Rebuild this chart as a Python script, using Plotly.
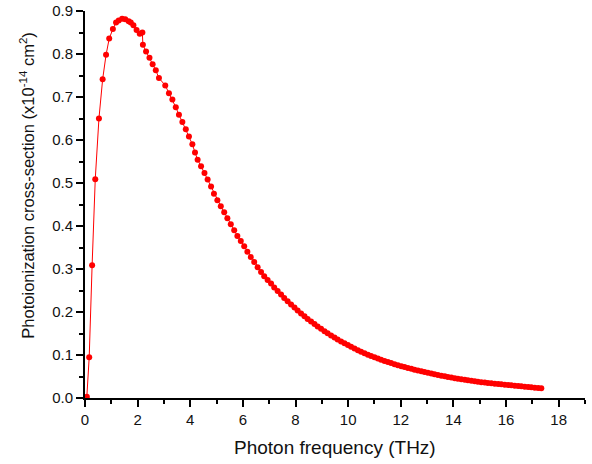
import plotly.graph_objects as go

# Photon frequency (THz) and photoionization cross-section (x1e-14 cm^2)
freq_thz = [
    0.07, 0.16, 0.27, 0.39, 0.53, 0.67, 0.80, 0.92, 1.06, 1.18, 1.28, 1.41, 1.53, 1.66,
    1.74, 1.84, 1.96, 2.08, 2.18, 2.20, 2.32, 2.45, 2.57, 2.69, 2.81, 3.05, 3.19, 3.32,
    3.45, 3.57, 3.70, 3.83, 3.95, 4.08, 4.18, 4.28, 4.41, 4.54, 4.66, 4.79, 4.90, 5.03,
    5.16, 5.29, 5.41, 5.54, 5.67, 5.79, 5.92, 6.05, 6.17, 6.30, 6.43, 6.56, 6.69, 6.81,
    6.94, 7.07, 7.19, 7.32, 7.45, 7.57, 7.70, 7.83, 7.96, 8.08, 8.21, 8.34, 8.46, 8.59,
    8.72, 8.84, 8.97, 9.10, 9.22, 9.35, 9.48, 9.60, 9.73, 9.86, 9.99, 10.11, 10.24, 10.37,
    10.49, 10.62, 10.75, 10.87, 11.00, 11.13, 11.25, 11.38, 11.51, 11.63, 11.76, 11.89,
    12.02, 12.14, 12.27, 12.40, 12.52, 12.65, 12.78, 12.90, 13.03, 13.16, 13.28, 13.41,
    13.54, 13.67, 13.79, 13.92, 14.05, 14.17, 14.30, 14.43, 14.55, 14.68, 14.81, 14.93,
    15.06, 15.19, 15.31, 15.44, 15.57, 15.70, 15.82, 15.95, 16.08, 16.20, 16.33, 16.46,
    16.58, 16.71, 16.84, 16.96, 17.09, 17.22, 17.34,
]
cross_section = [
    0.003, 0.095, 0.309, 0.509, 0.650, 0.741, 0.798, 0.836, 0.858, 0.873, 0.878, 0.882,
    0.881, 0.876, 0.873, 0.867, 0.856, 0.847, 0.850, 0.8215, 0.806, 0.791, 0.776, 0.762,
    0.744, 0.727, 0.709, 0.694, 0.676, 0.659, 0.642, 0.625, 0.608, 0.590, 0.571, 0.554,
    0.539, 0.523, 0.508, 0.492, 0.475, 0.460, 0.446, 0.432, 0.418, 0.404, 0.390, 0.377,
    0.365, 0.353, 0.340, 0.328, 0.316, 0.304, 0.293, 0.283, 0.2745, 0.266, 0.257, 0.2487,
    0.2405, 0.2326, 0.2249, 0.2175, 0.2103, 0.2034, 0.1967, 0.1902, 0.1839, 0.1778,
    0.1720, 0.1663, 0.1608, 0.1555, 0.1504, 0.1454, 0.1406, 0.1360, 0.1315, 0.1272,
    0.1230, 0.1189, 0.1150, 0.1113, 0.1077, 0.1042, 0.1008, 0.0976, 0.0945, 0.0917,
    0.0889, 0.0863, 0.0837, 0.0812, 0.0787, 0.0764, 0.0741, 0.0719, 0.0698, 0.0678,
    0.0658, 0.0639, 0.0621, 0.0603, 0.0585, 0.0568, 0.0552, 0.0536, 0.0520, 0.0505,
    0.0490, 0.0476, 0.0462, 0.0449, 0.0437, 0.0424, 0.0412, 0.0401, 0.0390, 0.0379,
    0.0368, 0.0359, 0.0350, 0.0341, 0.0333, 0.0325, 0.0317, 0.0309, 0.0301, 0.0294,
    0.0287, 0.0280, 0.0273, 0.0262, 0.0255, 0.0248, 0.0241, 0.0235, 0.0229,
]

x_ticks = [0, 2, 4, 6, 8, 10, 12, 14, 16, 18]
y_ticks = [0.0, 0.1, 0.2, 0.3, 0.4, 0.5, 0.6, 0.7, 0.8, 0.9]

font_family = "Liberation Sans, Arial, sans-serif"

fig = go.Figure()
fig.add_trace(go.Scatter(
    x=freq_thz, y=cross_section, mode="lines+markers",
    line=dict(color="#ff0000", width=1),
    marker=dict(color="#ff0000", size=6),
    showlegend=False,
))

axis_common = dict(
    showgrid=False, zeroline=False, showline=True, linecolor="black", linewidth=2,
    ticks="outside", ticklen=7, tickwidth=1.5, tickcolor="black",
    tickfont=dict(family=font_family, size=15, color="#111111"),
    mirror=False, automargin=False,
)

fig.update_xaxes(
    range=[0, 19], tickvals=x_ticks, ticktext=[str(v) for v in x_ticks],
    minor=dict(dtick=1, ticklen=4, tickwidth=1.5, tickcolor="black", ticks="outside"),
    **axis_common,
)
fig.update_yaxes(
    range=[0, 0.9], tickvals=y_ticks, ticktext=[f"{v:.1f}" for v in y_ticks],
    minor=dict(dtick=0.05, ticklen=4, tickwidth=1.5, tickcolor="black", ticks="outside"),
    **axis_common,
)

fig.add_annotation(
    text="Photoionization cross-section (x10<sup>-14</sup> cm<sup>2</sup>)",
    xref="paper", yref="paper", x=-0.115, y=0.55, textangle=-90, showarrow=False,
    font=dict(family=font_family, size=16.5, color="#111111"),
    xanchor="center", yanchor="middle",
)
fig.add_annotation(
    text="Photon frequency (THz)",
    xref="paper", yref="paper", x=0.5, y=-0.128, showarrow=False,
    font=dict(family=font_family, size=19, color="#111111"),
    xanchor="center", yanchor="middle",
)

fig.update_layout(
    width=592, height=464,
    margin=dict(l=85, r=7, t=11, b=66),
    paper_bgcolor="white", plot_bgcolor="white",
)

fig.write_html(
    "out.html",
    config={"displayModeBar": False},
    post_script="document.body.style.margin='0';document.body.style.overflow='hidden';",
)
